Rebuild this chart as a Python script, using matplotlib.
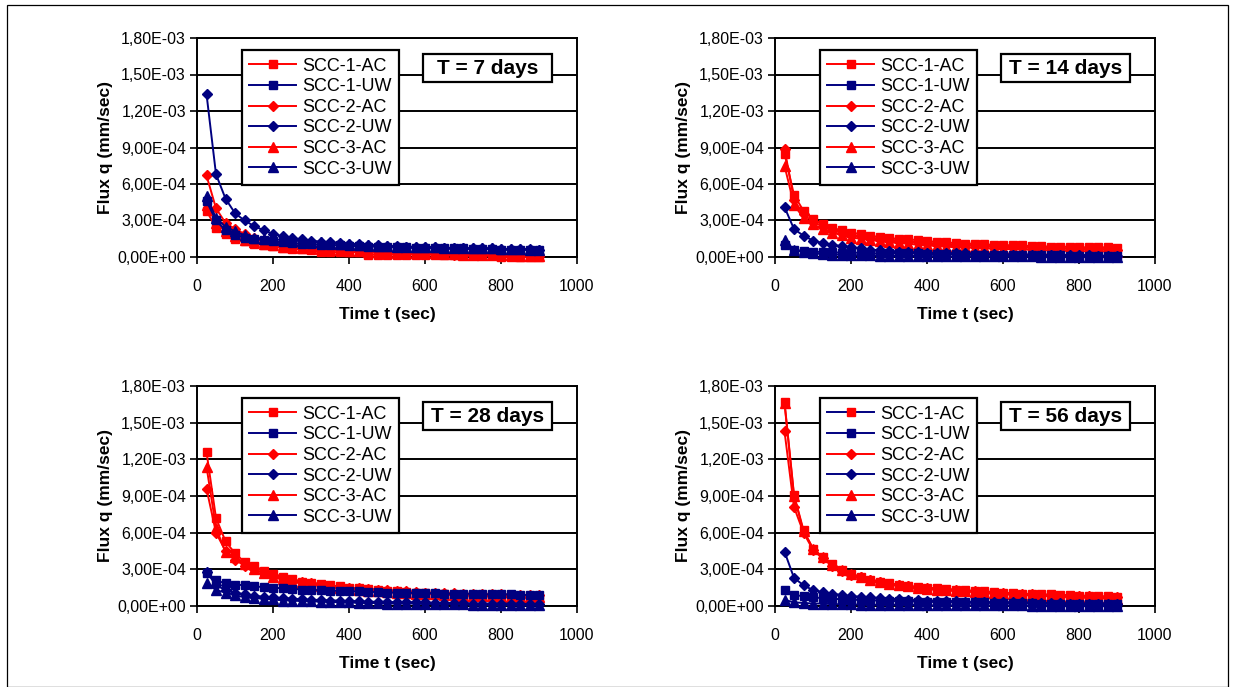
import matplotlib
matplotlib.use("Agg")
import matplotlib.pyplot as plt
from matplotlib.lines import Line2D
from matplotlib.patches import Rectangle

plt.rcParams['font.family'] = ['Liberation Sans', 'DejaVu Sans']

# ---------------- data ----------------
time_s = [25, 50, 75, 100, 125, 150, 175, 200, 225, 250, 275, 300, 325, 350, 375, 400, 425, 450,
          475, 500, 525, 550, 575, 600, 625, 650, 675, 700, 725, 750, 775, 800, 825, 850, 875, 900]

series_names = ["SCC-1-AC", "SCC-1-UW", "SCC-2-AC", "SCC-2-UW", "SCC-3-AC", "SCC-3-UW"]
panel_titles = ["T = 7 days", "T = 14 days", "T = 28 days", "T = 56 days"]

# values in units of 1e-4 mm/sec
d7_scc1_ac = [3.8, 2.4, 1.9, 1.5, 1.3, 1.1, 1.0, 0.9, 0.75, 0.65, 0.65, 0.55, 0.45, 0.4, 0.4, 0.4, 0.4, 0.2,
              0.2, 0.2, 0.2, 0.2, 0.2, 0.2, 0.2, 0.2, 0.2, 0.2, 0.2, 0.2, 0.2, 0.0, 0.0, 0.0, 0.0, 0.0]
d7_scc1_uw = [4.6, 3.0, 2.2, 1.8, 1.6, 1.5, 1.4, 1.3, 1.2, 1.15, 1.1, 1.05, 1.0, 1.0, 0.95, 0.9, 0.9, 0.85,
              0.85, 0.8, 0.8, 0.8, 0.75, 0.75, 0.7, 0.7, 0.7, 0.7, 0.65, 0.65, 0.65, 0.6, 0.6, 0.6, 0.6, 0.6]
d7_scc2_ac = [6.7, 4.0, 2.8, 2.3, 1.9, 1.6, 1.4, 1.25, 1.1, 1.0, 0.9, 0.8, 0.75, 0.7, 0.65, 0.6, 0.55, 0.5,
              0.45, 0.4, 0.4, 0.35, 0.3, 0.3, 0.25, 0.25, 0.2, 0.2, 0.2, 0.2, 0.15, 0.15, 0.1, 0.1, 0.1, 0.1]
d7_scc2_uw = [13.4, 6.8, 4.8, 3.6, 3.0, 2.55, 2.2, 1.9, 1.7, 1.55, 1.45, 1.35, 1.25, 1.2, 1.15, 1.1, 1.05, 1.0,
              0.95, 0.9, 0.9, 0.85, 0.85, 0.8, 0.8, 0.75, 0.75, 0.75, 0.7, 0.7, 0.7, 0.65, 0.65, 0.65, 0.65, 0.6]
d7_scc3_ac = [4.3, 2.8, 2.1, 1.7, 1.4, 1.2, 1.05, 0.95, 0.85, 0.8, 0.75, 0.7, 0.65, 0.6, 0.55, 0.5, 0.5, 0.45,
              0.4, 0.4, 0.35, 0.35, 0.3, 0.3, 0.3, 0.25, 0.25, 0.2, 0.2, 0.2, 0.2, 0.15, 0.15, 0.1, 0.1, 0.1]
d7_scc3_uw = [5.0, 3.2, 2.5, 2.1, 1.8, 1.6, 1.5, 1.45, 1.4, 1.35, 1.3, 1.25, 1.2, 1.15, 1.1, 1.05, 1.0, 0.95,
              0.9, 0.9, 0.85, 0.85, 0.8, 0.8, 0.8, 0.75, 0.75, 0.7, 0.7, 0.7, 0.7, 0.65, 0.65, 0.65, 0.6, 0.6]

d14_scc1_ac = [8.5, 5.1, 3.8, 3.1, 2.7, 2.4, 2.2, 2.0, 1.9, 1.75, 1.65, 1.55, 1.5, 1.45, 1.4, 1.3, 1.25, 1.2,
               1.15, 1.1, 1.1, 1.05, 1.0, 1.0, 0.95, 0.95, 0.9, 0.9, 0.85, 0.85, 0.85, 0.8, 0.8, 0.8, 0.8, 0.75]
d14_scc1_uw = [1.0, 0.6, 0.5, 0.45, 0.4, 0.4, 0.35, 0.35, 0.35, 0.3, 0.3, 0.3, 0.3, 0.3, 0.3, 0.25, 0.25, 0.25,
               0.25, 0.2, 0.2, 0.2, 0.2, 0.2, 0.2, 0.15, 0.15, 0.15, 0.15, 0.15, 0.1, 0.1, 0.1, 0.1, 0.1, 0.1]
d14_scc2_ac = [8.9, 4.7, 3.5, 2.9, 2.5, 2.2, 2.0, 1.8, 1.7, 1.6, 1.5, 1.4, 1.35, 1.3, 1.2, 1.15, 1.1, 1.05,
               1.0, 1.0, 0.95, 0.9, 0.9, 0.85, 0.85, 0.8, 0.8, 0.75, 0.75, 0.7, 0.7, 0.7, 0.65, 0.65, 0.65, 0.6]
d14_scc2_uw = [4.1, 2.3, 1.75, 1.35, 1.15, 1.0, 0.9, 0.8, 0.7, 0.6, 0.55, 0.5, 0.45, 0.4, 0.4, 0.35, 0.35, 0.3,
               0.3, 0.3, 0.25, 0.25, 0.25, 0.2, 0.2, 0.2, 0.2, 0.2, 0.15, 0.15, 0.15, 0.15, 0.15, 0.1, 0.1, 0.1]
d14_scc3_ac = [7.5, 4.3, 3.2, 2.7, 2.3, 2.0, 1.8, 1.6, 1.5, 1.4, 1.3, 1.2, 1.15, 1.1, 1.0, 0.95, 0.9, 0.85,
               0.8, 0.8, 0.75, 0.7, 0.7, 0.65, 0.65, 0.6, 0.6, 0.55, 0.55, 0.5, 0.5, 0.5, 0.45, 0.45, 0.45, 0.4]
d14_scc3_uw = [1.4, 0.6, 0.4, 0.3, 0.25, 0.2, 0.2, 0.15, 0.15, 0.15, 0.1, 0.1, 0.1, 0.1, 0.1, 0.1, 0.05, 0.05,
               0.05, 0.05, 0.05, 0.05, 0.05, 0.05, 0.05, 0.05, 0.05, 0.0, 0.0, 0.0, 0.0, 0.0, 0.0, 0.0, 0.0, 0.0]

d28_scc1_ac = [12.6, 7.2, 5.3, 4.3, 3.6, 3.3, 2.9, 2.6, 2.4, 2.2, 2.0, 1.9, 1.8, 1.7, 1.6, 1.5, 1.45, 1.4,
               1.3, 1.25, 1.2, 1.15, 1.1, 1.05, 1.0, 0.95, 0.9, 0.9, 0.85, 0.8, 0.8, 0.75, 0.7, 0.7, 0.65, 0.6]
d28_scc1_uw = [2.7, 2.1, 1.85, 1.75, 1.7, 1.6, 1.55, 1.5, 1.45, 1.4, 1.35, 1.3, 1.3, 1.25, 1.25, 1.2, 1.2, 1.15,
               1.15, 1.1, 1.1, 1.1, 1.05, 1.05, 1.05, 1.0, 1.0, 1.0, 1.0, 0.95, 0.95, 0.95, 0.95, 0.9, 0.9, 0.9]
d28_scc2_ac = [9.6, 6.0, 4.5, 3.8, 3.3, 3.0, 2.7, 2.5, 2.3, 2.1, 2.0, 1.85, 1.75, 1.65, 1.55, 1.5, 1.45, 1.4,
               1.35, 1.3, 1.25, 1.2, 1.15, 1.1, 1.1, 1.05, 1.05, 1.0, 1.0, 0.95, 0.95, 0.95, 0.9, 0.9, 0.9, 0.9]
d28_scc2_uw = [2.8, 1.7, 1.3, 1.1, 0.95, 0.85, 0.75, 0.7, 0.65, 0.6, 0.55, 0.5, 0.5, 0.45, 0.45, 0.4, 0.4, 0.35,
               0.35, 0.35, 0.3, 0.3, 0.3, 0.3, 0.25, 0.25, 0.25, 0.25, 0.2, 0.2, 0.2, 0.2, 0.2, 0.2, 0.15, 0.15]
d28_scc3_ac = [11.4, 6.4, 4.4, 4.0, 3.4, 3.0, 2.7, 2.4, 2.2, 2.0, 1.85, 1.75, 1.65, 1.55, 1.45, 1.4, 1.3, 1.25,
               1.2, 1.15, 1.1, 1.05, 1.0, 1.0, 0.95, 0.9, 0.9, 0.85, 0.85, 0.8, 0.8, 0.75, 0.75, 0.7, 0.7, 0.7]
d28_scc3_uw = [1.9, 1.3, 1.1, 0.9, 0.7, 0.65, 0.6, 0.55, 0.45, 0.45, 0.4, 0.4, 0.35, 0.35, 0.3, 0.3, 0.25, 0.25,
               0.25, 0.2, 0.2, 0.2, 0.2, 0.15, 0.15, 0.15, 0.15, 0.15, 0.1, 0.1, 0.1, 0.1, 0.1, 0.05, 0.05, 0.05]

d56_scc1_ac = [16.7, 9.1, 6.2, 4.7, 4.0, 3.4, 2.95, 2.6, 2.4, 2.15, 2.0, 1.85, 1.75, 1.65, 1.55, 1.5, 1.45, 1.4,
               1.35, 1.3, 1.25, 1.2, 1.15, 1.1, 1.05, 1.0, 1.0, 0.95, 0.95, 0.9, 0.9, 0.85, 0.85, 0.8, 0.8, 0.75]
d56_scc1_uw = [1.35, 0.9, 0.8, 0.7, 0.65, 0.6, 0.55, 0.5, 0.5, 0.45, 0.45, 0.4, 0.4, 0.4, 0.35, 0.35, 0.35, 0.3,
               0.3, 0.3, 0.3, 0.3, 0.25, 0.25, 0.25, 0.25, 0.25, 0.2, 0.2, 0.2, 0.2, 0.2, 0.2, 0.2, 0.2, 0.2]
d56_scc2_ac = [14.3, 8.1, 6.0, 4.6, 3.9, 3.3, 2.9, 2.55, 2.35, 2.1, 1.95, 1.8, 1.7, 1.6, 1.5, 1.45, 1.4, 1.35,
               1.3, 1.25, 1.2, 1.15, 1.1, 1.05, 1.0, 0.95, 0.95, 0.9, 0.9, 0.85, 0.85, 0.8, 0.8, 0.75, 0.75, 0.7]
d56_scc2_uw = [4.45, 2.3, 1.7, 1.3, 1.15, 1.0, 0.9, 0.8, 0.75, 0.7, 0.65, 0.6, 0.55, 0.5, 0.5, 0.45, 0.45, 0.4,
               0.4, 0.35, 0.35, 0.35, 0.3, 0.3, 0.3, 0.3, 0.25, 0.25, 0.25, 0.25, 0.2, 0.2, 0.2, 0.2, 0.2, 0.2]
d56_scc3_ac = [16.6, 9.0, 6.1, 4.7, 4.0, 3.35, 2.95, 2.6, 2.35, 2.1, 1.95, 1.8, 1.7, 1.6, 1.5, 1.4, 1.35, 1.3,
               1.25, 1.2, 1.15, 1.1, 1.05, 1.0, 0.95, 0.9, 0.85, 0.85, 0.8, 0.75, 0.75, 0.7, 0.65, 0.65, 0.6, 0.55]
d56_scc3_uw = [0.5, 0.3, 0.25, 0.2, 0.2, 0.15, 0.15, 0.15, 0.1, 0.1, 0.1, 0.1, 0.1, 0.1, 0.1, 0.05, 0.05, 0.05,
               0.05, 0.05, 0.05, 0.05, 0.05, 0.05, 0.05, 0.05, 0.0, 0.0, 0.0, 0.0, 0.0, 0.0, 0.0, 0.0, 0.0, 0.0]

panels = [
    [d7_scc1_ac, d7_scc1_uw, d7_scc2_ac, d7_scc2_uw, d7_scc3_ac, d7_scc3_uw],
    [d14_scc1_ac, d14_scc1_uw, d14_scc2_ac, d14_scc2_uw, d14_scc3_ac, d14_scc3_uw],
    [d28_scc1_ac, d28_scc1_uw, d28_scc2_ac, d28_scc2_uw, d28_scc3_ac, d28_scc3_uw],
    [d56_scc1_ac, d56_scc1_uw, d56_scc2_ac, d56_scc2_uw, d56_scc3_ac, d56_scc3_uw],
]
value_scale = 1e-4

y_ticks = [0.0, 3e-4, 6e-4, 9e-4, 1.2e-3, 1.5e-3, 1.8e-3]
y_tick_labels = ["0,00E+00", "3,00E-04", "6,00E-04", "9,00E-04", "1,20E-03", "1,50E-03", "1,80E-03"]
x_ticks = [0, 200, 400, 600, 800, 1000]

# ---------------- style ----------------
RED = "#FF0000"
NAVY = "#000080"
colors = [RED, NAVY, RED, NAVY, RED, NAVY]
markers = ["s", "s", "D", "D", "^", "^"]
msizes = [5.8, 5.8, 5.6, 5.6, 6.8, 6.8]

W, H = 1235, 687
fig = plt.figure(figsize=(W / 100, H / 100), dpi=100)
fig.patch.set_facecolor("white")

# outer frame
fig.add_artist(Rectangle((7 / W, 0), (1228 - 7) / W, (H - 5) / H, transform=fig.transFigure,
                         fill=False, edgecolor="black", linewidth=0.9))

# axes pixel boxes: left, right, top, bottom
boxes = [(197, 577, 38, 257), (775, 1155, 38, 257), (197, 577, 386, 606), (775, 1155, 386, 606)]

for p, (l, r, t, b) in enumerate(boxes):
    ax = fig.add_axes([l / W, 1 - b / H, (r - l) / W, (b - t) / H])
    handles = []
    for k in range(6):
        vals = [v * value_scale for v in panels[p][k]]
        ln, = ax.plot(time_s, vals, color=colors[k], marker=markers[k], markersize=msizes[k],
                      markerfacecolor=colors[k], markeredgecolor=colors[k], linewidth=1.4,
                      clip_on=False, zorder=3 + (k % 2))
        handles.append(ln)
    if p == 3:
        handles[0] = Line2D([], [], color=NAVY, marker="s", markersize=msizes[0],
                            markerfacecolor=RED, markeredgecolor=RED, linewidth=1.4)
    ax.set_xlim(0, 1000)
    ax.set_ylim(0, 1.8e-3)
    ax.set_xticks(x_ticks)
    ax.set_yticks(y_ticks)
    ax.set_yticklabels(y_tick_labels)
    ax.tick_params(axis="both", direction="out", length=5, width=1.2, labelsize=11.5, colors="black")
    ax.tick_params(axis="x", pad=11)
    ax.tick_params(axis="y", pad=3)
    for s in ax.spines.values():
        s.set_linewidth(1.4)
        s.set_color("black")
    ax.grid(axis="y", color="black", linewidth=1.4)
    ax.set_axisbelow(True)
    ax.set_xlabel("Time t (sec)", fontsize=12.5, fontweight="bold", labelpad=9)
    ax.set_ylabel("Flux q (mm/sec)", fontsize=12.5, fontweight="bold", labelpad=3)

    leg = ax.legend(handles, series_names, loc="upper left", bbox_to_anchor=(0.118, 0.945),
                    fontsize=13, frameon=True, fancybox=False, framealpha=1.0, edgecolor="black",
                    handlelength=2.6, handletextpad=0.3, labelspacing=0.2, borderpad=0.42,
                    borderaxespad=0.0)
    leg.get_frame().set_linewidth(1.6)
    leg.set_zorder(10)

    ax.add_patch(Rectangle((0.595, 0.799), 0.934 - 0.595, 0.927 - 0.799, transform=ax.transAxes,
                           facecolor="white", edgecolor="black", linewidth=1.6, zorder=11,
                           clip_on=False))
    ax.text(0.7645, 0.862, panel_titles[p], transform=ax.transAxes, ha="center", va="center",
            fontsize=15, fontweight="bold", zorder=12)

fig.savefig("out.png", dpi=100, facecolor="white")
